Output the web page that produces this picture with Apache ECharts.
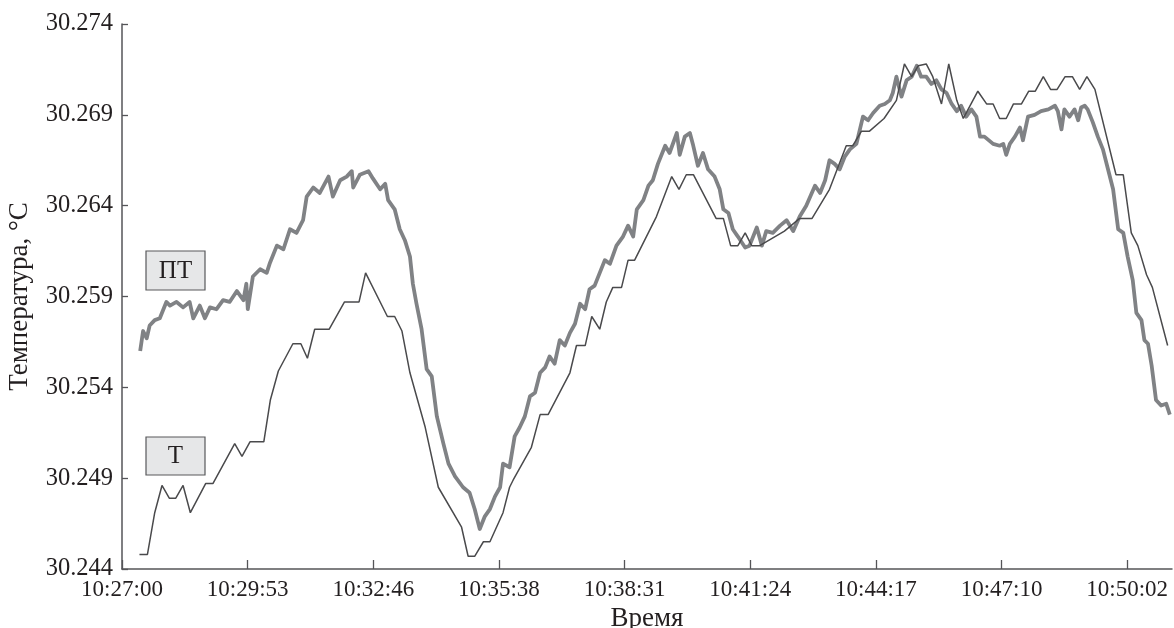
<!DOCTYPE html>
<html><head><meta charset="utf-8">
<script src="https://cdn.jsdelivr.net/npm/echarts@6/dist/echarts.min.js"></script>
<style>html,body{margin:0;padding:0;background:#fff}#c{width:1174px;height:628px}</style>
</head><body><div id="c"></div>
<script>
// x values are seconds after 10:27:00
const xTickSeconds = [0, 172.8, 345.6, 518.4, 691.2, 864, 1036.8, 1209.6, 1382.4];
const xTickLabels = ['10:27:00','10:29:53','10:32:46','10:35:38','10:38:31','10:41:24','10:44:17','10:47:10','10:50:02'];
const yTicks = [30.244, 30.249, 30.254, 30.259, 30.264, 30.269, 30.274];
const xName = 'Время';
const yName = 'Температура, °C';
const seriesNames = ['ПТ', 'Т'];

// ПТ : [seconds, temperature]
const ptSeries = [[25,30.2560],[29,30.2571],[34,30.2567],[38,30.2574],[45,30.2577],[52,30.2578],[61,30.2587],[66,30.2585],[75,30.2587],[84,30.2584],[93,30.2587],[98,30.2578],[107,30.2585],[114,30.2578],[121,30.2584],[130,30.2583],[139,30.2588],[148,30.2587],[158,30.2593],[167,30.2588],[171,30.2597],[173,30.2583],[180,30.2601],[190,30.2605],[199,30.2603],[203,30.2608],[213,30.2618],[222,30.2616],[231,30.2627],[240,30.2625],[249,30.2632],[254,30.2645],[263,30.2650],[272,30.2647],[284,30.2656],[290,30.2645],[300,30.2654],[309,30.2656],[316,30.2659],[318,30.2650],[327,30.2657],[339,30.2659],[345,30.2655],[355,30.2649],[362,30.2652],[366,30.2643],[375,30.2638],[382,30.2627],[389,30.2621],[396,30.2612],[400,30.2597],[405,30.2586],[412,30.2572],[419,30.2550],[426,30.2546],[433,30.2524],[442,30.2509],[449,30.2498],[458,30.2491],[469,30.2485],[478,30.2482],[485,30.2473],[492,30.2462],[499,30.2469],[506,30.2473],[513,30.2480],[520,30.2485],[524,30.2498],[533,30.2496],[540,30.2513],[547,30.2518],[554,30.2524],[561,30.2535],[568,30.2537],[575,30.2548],[582,30.2551],[588,30.2557],[595,30.2553],[602,30.2566],[609,30.2563],[616,30.2570],[623,30.2575],[630,30.2586],[637,30.2583],[643,30.2594],[650,30.2596],[657,30.2603],[664,30.2610],[671,30.2608],[680,30.2618],[689,30.2623],[696,30.2629],[703,30.2623],[708,30.2638],[717,30.2643],[724,30.2651],[730,30.2654],[737,30.2663],[747,30.2673],[753,30.2669],[763,30.2680],[767,30.2668],[774,30.2678],[781,30.2680],[785,30.2674],[792,30.2662],[799,30.2669],[806,30.2660],[815,30.2656],[822,30.2649],[827,30.2638],[834,30.2636],[840,30.2627],[847,30.2623],[857,30.2617],[863,30.2618],[873,30.2628],[880,30.2618],[886,30.2626],[895,30.2625],[905,30.2629],[914,30.2632],[923,30.2626],[932,30.2634],[941,30.2640],[953,30.2651],[960,30.2647],[967,30.2654],[973,30.2665],[980,30.2663],[987,30.2660],[994,30.2667],[1001,30.2671],[1010,30.2674],[1019,30.2689],[1026,30.2687],[1033,30.2691],[1042,30.2695],[1049,30.2696],[1056,30.2698],[1060,30.2702],[1065,30.2711],[1072,30.2700],[1079,30.2709],[1086,30.2711],[1093,30.2717],[1099,30.2711],[1106,30.2711],[1113,30.2707],[1120,30.2709],[1127,30.2704],[1134,30.2702],[1141,30.2696],[1148,30.2692],[1154,30.2695],[1161,30.2689],[1168,30.2693],[1175,30.2689],[1180,30.2678],[1186,30.2678],[1198,30.2674],[1207,30.2673],[1212,30.2674],[1216,30.2668],[1221,30.2674],[1228,30.2678],[1235,30.2683],[1239,30.2676],[1246,30.2689],[1255,30.2690],[1264,30.2692],[1274,30.2693],[1283,30.2695],[1287,30.2692],[1292,30.2682],[1296,30.2693],[1303,30.2689],[1310,30.2693],[1315,30.2687],[1319,30.2694],[1324,30.2695],[1328,30.2693],[1335,30.2686],[1342,30.2678],[1349,30.2671],[1356,30.2660],[1363,30.2649],[1370,30.2627],[1377,30.2625],[1383,30.2612],[1390,30.2599],[1395,30.2581],[1402,30.2577],[1406,30.2566],[1411,30.2564],[1416,30.2552],[1422,30.2533],[1429,30.2530],[1436,30.2531],[1441,30.2525]];

// Т : [seconds, temperature]
const tSeries = [[24,30.2448],[35,30.2448],[45,30.2471],[55,30.2486],[65,30.2479],[74,30.2479],[84,30.2486],[94,30.2471],[115,30.2487],[125,30.2487],[155,30.2509],[165,30.2502],[176,30.2510],[195,30.2510],[204,30.2533],[215,30.2549],[235,30.2564],[246,30.2564],[255,30.2556],[265,30.2572],[285,30.2572],[306,30.2587],[326,30.2587],[335,30.2603],[365,30.2579],[375,30.2579],[385,30.2571],[396,30.2548],[417,30.2518],[435,30.2485],[467,30.2463],[476,30.2447],[485,30.2447],[497,30.2455],[506,30.2455],[524,30.2471],[533,30.2485],[538,30.2489],[563,30.2507],[575,30.2525],[586,30.2525],[616,30.2548],[625,30.2563],[637,30.2563],[646,30.2579],[657,30.2572],[666,30.2587],[675,30.2595],[687,30.2595],[696,30.2610],[705,30.2610],[735,30.2634],[756,30.2656],[766,30.2649],[776,30.2657],[786,30.2657],[817,30.2633],[827,30.2633],[837,30.2618],[847,30.2618],[857,30.2625],[866,30.2618],[877,30.2618],[911,30.2626],[932,30.2633],[949,30.2633],[973,30.2649],[996,30.2673],[1005,30.2673],[1017,30.2681],[1028,30.2681],[1048,30.2688],[1065,30.2698],[1076,30.2718],[1086,30.2711],[1095,30.2717],[1106,30.2718],[1115,30.2711],[1127,30.2696],[1137,30.2718],[1148,30.2698],[1157,30.2688],[1177,30.2703],[1189,30.2696],[1198,30.2696],[1207,30.2688],[1216,30.2688],[1226,30.2696],[1237,30.2696],[1247,30.2703],[1256,30.2703],[1267,30.2711],[1277,30.2704],[1286,30.2704],[1297,30.2711],[1307,30.2711],[1317,30.2704],[1327,30.2711],[1338,30.2704],[1367,30.2657],[1377,30.2657],[1388,30.2625],[1397,30.2618],[1409,30.2602],[1417,30.2595],[1438,30.2563]];

const FONT = '"Liberation Serif", "Times New Roman", serif';
const TXT = '#231f20';
const AX = '#555558';

const chart = echarts.init(document.getElementById('c'), null, {renderer: 'canvas'});
chart.setOption({
  animation: false,
  backgroundColor: '#ffffff',
  grid: {left: 122, right: 2, top: 24, bottom: 59, containLabel: false, outerBoundsMode: 'none'},
  xAxis: {
    type: 'value', min: 0, max: 1444,
    name: xName, nameLocation: 'middle', nameGap: 36,
    nameTextStyle: {fontFamily: FONT, fontSize: 27, color: TXT},
    axisLine: {show: true, lineStyle: {color: AX, width: 1.5}},
    axisTick: {show: true, inside: true, length: 9, customValues: xTickSeconds, lineStyle: {color: AX, width: 1.3}},
    axisLabel: {customValues: xTickSeconds, margin: 9, fontFamily: FONT, fontSize: 23, color: TXT,
      formatter: v => { const i = xTickSeconds.findIndex(s => Math.abs(s - v) < 0.01); return i >= 0 ? xTickLabels[i] : ''; }},
    splitLine: {show: false}
  },
  yAxis: {
    type: 'value', min: 30.244, max: 30.274, interval: 0.005,
    name: yName, nameLocation: 'middle', nameGap: 89,
    nameTextStyle: {fontFamily: FONT, fontSize: 27, color: TXT},
    axisLine: {show: true, lineStyle: {color: AX, width: 1.5}},
    axisTick: {show: true, inside: true, length: 6, customValues: yTicks, lineStyle: {color: AX, width: 1.3}},
    axisLabel: {customValues: yTicks, margin: 9, fontFamily: FONT, fontSize: 24.5, color: TXT,
      formatter: v => Number(v).toFixed(3)},
    splitLine: {show: false}
  },
  series: [
    {name: seriesNames[0], type: 'line', data: ptSeries, showSymbol: false, symbol: 'none',
      lineStyle: {color: '#808285', width: 3.8, join: 'round'}, z: 2},
    {name: seriesNames[1], type: 'line', data: tSeries, showSymbol: false, symbol: 'none',
      lineStyle: {color: '#4a4a4c', width: 1.5}, z: 3}
  ],
  graphic: [
    {type: 'rect', shape: {x: 146, y: 251, width: 59, height: 39}, style: {fill: '#e6e7e8', stroke: '#58595b', lineWidth: 1.2}, z: 10},
    {type: 'text', style: {text: seriesNames[0], x: 175.5, y: 271, align: 'center', verticalAlign: 'middle', font: '25px ' + FONT, fill: TXT}, z: 11},
    {type: 'rect', shape: {x: 146, y: 437, width: 59, height: 38}, style: {fill: '#e6e7e8', stroke: '#58595b', lineWidth: 1.2}, z: 10},
    {type: 'text', style: {text: seriesNames[1], x: 175.5, y: 456.5, align: 'center', verticalAlign: 'middle', font: '25px ' + FONT, fill: TXT}, z: 11}
  ]
});
</script>
</body></html>
